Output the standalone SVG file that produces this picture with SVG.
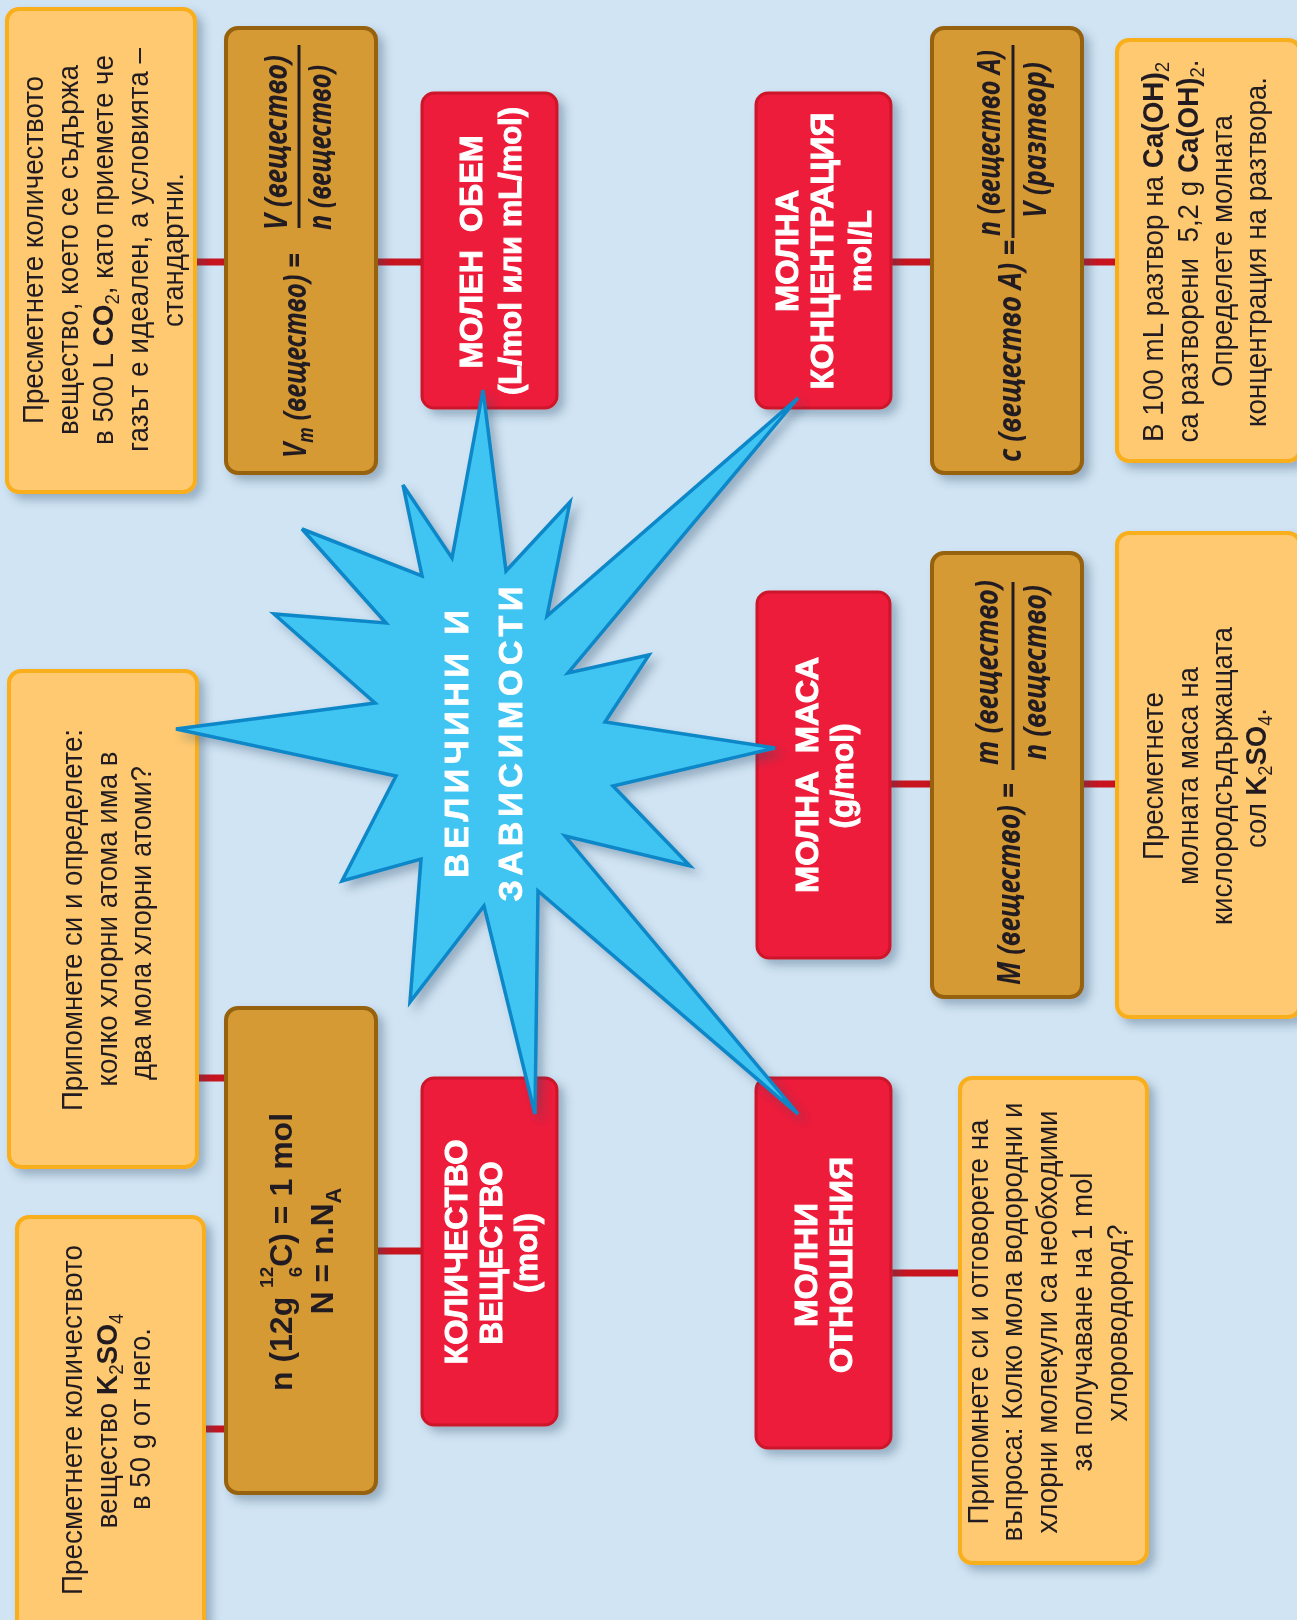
<svg xmlns="http://www.w3.org/2000/svg" width="1297" height="1620" viewBox="0 0 1297 1620">
<defs>
<filter id="sh" x="-20%" y="-20%" width="150%" height="150%">
<feDropShadow dx="6" dy="6" stdDeviation="5" flood-color="#2f4a66" flood-opacity="0.35"/>
</filter>
<style>
.ob{fill:#FEC970;stroke:#F9AE1C;stroke-width:4}
.bb{fill:#D69A36;stroke:#976208;stroke-width:4}
.rb{fill:#ED1B3A;stroke:#CC1429;stroke-width:3}
.conn{stroke:#C8141F;stroke-width:7;fill:none}
.bar{stroke:#231F20;stroke-width:3}
.t{font-family:"Liberation Sans",Arial,sans-serif;font-size:30px;fill:#231F20;text-anchor:middle}
.b{font-weight:bold}
.rt{font-family:"Liberation Sans",Arial,sans-serif;font-size:32px;font-weight:bold;fill:#fff;stroke:#fff;stroke-width:1;text-anchor:middle}
.ft{font-family:"Noto Sans","DejaVu Sans",sans-serif;font-size:33px;font-weight:bold;font-style:italic;fill:#231F20}
.ct{font-family:"Liberation Sans",Arial,sans-serif;font-size:32px;font-weight:bold;fill:#231F20;text-anchor:middle}
.st{font-family:"Liberation Sans",Arial,sans-serif;font-size:34px;font-weight:bold;fill:#fff;stroke:#fff;stroke-width:0.8;text-anchor:middle}
.star{fill:#40C5F3;stroke:#0A87C8;stroke-width:3.5;stroke-linejoin:miter}
</style>
</defs>
<rect x="0" y="0" width="1297" height="1620" fill="#D1E4F3"/>

<g id="connectors">
<line class="conn" x1="195" y1="262" x2="228" y2="262"/>
<line class="conn" x1="374" y1="262" x2="424" y2="262"/>
<line class="conn" x1="889" y1="262" x2="934" y2="262"/>
<line class="conn" x1="1080" y1="262" x2="1119" y2="262"/>
<line class="conn" x1="888" y1="784" x2="934" y2="784"/>
<line class="conn" x1="1080" y1="784" x2="1119" y2="784"/>
<line class="conn" x1="195" y1="1078" x2="228" y2="1078"/>
<line class="conn" x1="202" y1="1429" x2="228" y2="1429"/>
<line class="conn" x1="374" y1="1251" x2="424" y2="1251"/>
<line class="conn" x1="889" y1="1273" x2="962" y2="1273"/>
</g>

<g id="task-co2" filter="url(#sh)">
<rect class="ob" x="7" y="9" width="188" height="483" rx="12"/>
<g transform="rotate(-90)">
<text class="t" x="-250" y="43" textLength="348" lengthAdjust="spacingAndGlyphs">Пресметнете количеството</text>
<text class="t" x="-250" y="78" textLength="370" lengthAdjust="spacingAndGlyphs">вещество, което се съдържа</text>
<text class="t" x="-250" y="113" textLength="390" lengthAdjust="spacingAndGlyphs">в 500 L <tspan class="b">CO</tspan><tspan font-size="20" dy="6">2</tspan><tspan dy="-6">, като приемете че</tspan></text>
<text class="t" x="-250" y="148" textLength="404" lengthAdjust="spacingAndGlyphs">газът е идеален, а условията –</text>
<text class="t" x="-250" y="183" textLength="154" lengthAdjust="spacingAndGlyphs">стандартни.</text>
</g>
</g>

<g id="formula-vm" filter="url(#sh)">
<rect class="bb" x="226" y="28" width="150" height="445" rx="12"/>
<g transform="rotate(-90)">
<text class="ft" x="-458" y="306" textLength="205" lengthAdjust="spacingAndGlyphs">V<tspan font-size="22" dy="7">m</tspan><tspan dy="-7"> (вещество) =</tspan></text>
<text class="ft" x="-230" y="287" textLength="175" lengthAdjust="spacingAndGlyphs">V (вещество)</text>
<text class="ft" x="-230" y="331" textLength="165" lengthAdjust="spacingAndGlyphs">n (вещество)</text>
</g>
<line class="bar" x1="299" y1="45" x2="299" y2="228"/>
</g>

<g id="molar-volume" filter="url(#sh)">
<rect class="rb" x="422" y="93" width="135" height="315" rx="12"/>
<g transform="rotate(-90)">
<text class="rt" x="-252" y="482" textLength="233" lengthAdjust="spacingAndGlyphs">МОЛЕН&#160; ОБЕМ</text>
<text class="rt" x="-251" y="521" textLength="288" lengthAdjust="spacingAndGlyphs">(L/mol или mL/mol)</text>
</g>
</g>

<g id="molar-concentration" filter="url(#sh)">
<rect class="rb" x="756" y="93" width="135" height="315" rx="12"/>
<g transform="rotate(-90)">
<text class="rt" x="-251" y="798" textLength="122" lengthAdjust="spacingAndGlyphs">МОЛНА</text>
<text class="rt" x="-251" y="833" textLength="277" lengthAdjust="spacingAndGlyphs">КОНЦЕНТРАЦИЯ</text>
<text class="rt" x="-251" y="871" textLength="82" lengthAdjust="spacingAndGlyphs">mol/L</text>
</g>
</g>

<g id="formula-c" filter="url(#sh)">
<rect class="bb" x="932" y="28" width="150" height="445" rx="12"/>
<g transform="rotate(-90)">
<text class="ft" x="-462" y="1021" textLength="222" lengthAdjust="spacingAndGlyphs">c (вещество A) =</text>
<text class="ft" x="-143" y="1000" font-size="31" text-anchor="middle" textLength="186" lengthAdjust="spacingAndGlyphs">n (вещество A)</text>
<text class="ft" x="-218" y="1046" textLength="156" lengthAdjust="spacingAndGlyphs">V (разтвор)</text>
</g>
<line class="bar" x1="1013" y1="45" x2="1013" y2="238"/>
</g>

<g id="task-caoh2" filter="url(#sh)">
<rect class="ob" x="1117" y="40" width="183" height="421" rx="12"/>
<g transform="rotate(-90)">
<text class="t" x="-252" y="1163" textLength="380" lengthAdjust="spacingAndGlyphs">В 100 mL разтвор на <tspan class="b">Ca(OH)</tspan><tspan font-size="20" dy="6">2</tspan></text>
<text class="t" x="-251" y="1198" textLength="383" lengthAdjust="spacingAndGlyphs">са разтворени&#160; 5,2 g <tspan class="b">Ca(OH)</tspan><tspan font-size="20" dy="6">2</tspan><tspan dy="-6">.</tspan></text>
<text class="t" x="-251" y="1232" textLength="272" lengthAdjust="spacingAndGlyphs">Определете молната</text>
<text class="t" x="-252" y="1266" textLength="350" lengthAdjust="spacingAndGlyphs">концентрация на разтвора.</text>
</g>
</g>

<g id="task-chlorine" filter="url(#sh)">
<rect class="ob" x="9" y="671" width="188" height="496" rx="12"/>
<g transform="rotate(-90)">
<text class="t" x="-920" y="82" textLength="382" lengthAdjust="spacingAndGlyphs">Припомнете си и определете:</text>
<text class="t" x="-919" y="117" textLength="335" lengthAdjust="spacingAndGlyphs">колко хлорни атома има в</text>
<text class="t" x="-923" y="151" textLength="314" lengthAdjust="spacingAndGlyphs">два мола хлорни атоми?</text>
</g>
</g>

<g id="molar-mass" filter="url(#sh)">
<rect class="rb" x="757" y="592" width="133" height="366" rx="12"/>
<g transform="rotate(-90)">
<text class="rt" x="-775" y="818" textLength="236" lengthAdjust="spacingAndGlyphs">МОЛНА&#160; МАСА</text>
<text class="rt" x="-776" y="853" textLength="105" lengthAdjust="spacingAndGlyphs">(g/mol)</text>
</g>
</g>

<g id="formula-m" filter="url(#sh)">
<rect class="bb" x="932" y="553" width="150" height="444" rx="12"/>
<g transform="rotate(-90)">
<text class="ft" x="-985" y="1020" textLength="202" lengthAdjust="spacingAndGlyphs">M (вещество) =</text>
<text class="ft" x="-765" y="998" textLength="185" lengthAdjust="spacingAndGlyphs">m (вещество)</text>
<text class="ft" x="-760" y="1046" textLength="175" lengthAdjust="spacingAndGlyphs">n (вещество)</text>
</g>
<line class="bar" x1="1013" y1="582" x2="1013" y2="770"/>
</g>

<g id="task-k2so4-mass" filter="url(#sh)">
<rect class="ob" x="1117" y="533" width="183" height="484" rx="12"/>
<g transform="rotate(-90)">
<text class="t" x="-776" y="1163" textLength="168" lengthAdjust="spacingAndGlyphs">Пресметнете</text>
<text class="t" x="-776" y="1198" textLength="218" lengthAdjust="spacingAndGlyphs">молната маса на</text>
<text class="t" x="-776" y="1232" textLength="298" lengthAdjust="spacingAndGlyphs">кислородсъдържащата</text>
<text class="t" x="-778" y="1266" textLength="140" lengthAdjust="spacingAndGlyphs">сол <tspan class="b">K</tspan><tspan font-size="20" dy="6">2</tspan><tspan class="b" dy="-6">SO</tspan><tspan font-size="20" dy="6">4</tspan><tspan dy="-6">.</tspan></text>
</g>
</g>

<g id="formula-n" filter="url(#sh)">
<rect class="bb" x="226" y="1008" width="150" height="485" rx="12"/>
<g transform="rotate(-90)">
<text class="ct" x="-1252" y="292">n (12g <tspan font-size="19" dy="-19">12</tspan><tspan font-size="19" dx="-10.6" dy="29">6</tspan><tspan dy="-10">C) = 1 mol</tspan></text>
<text class="ct" x="-1251" y="333">N = n.N<tspan font-size="22" dy="8">A</tspan></text>
</g>
</g>

<g id="amount-of-substance" filter="url(#sh)">
<rect class="rb" x="422" y="1078" width="135" height="347" rx="12"/>
<g transform="rotate(-90)">
<text class="rt" x="-1252" y="467" textLength="225" lengthAdjust="spacingAndGlyphs">КОЛИЧЕСТВО</text>
<text class="rt" x="-1253" y="502" textLength="183" lengthAdjust="spacingAndGlyphs">ВЕЩЕСТВО</text>
<text class="rt" x="-1253" y="537" textLength="80" lengthAdjust="spacingAndGlyphs">(mol)</text>
</g>
</g>

<g id="task-k2so4-amount" filter="url(#sh)">
<rect class="ob" x="17" y="1217" width="187" height="420" rx="12"/>
<g transform="rotate(-90)">
<text class="t" x="-1420" y="82" textLength="350" lengthAdjust="spacingAndGlyphs">Пресметнете количеството</text>
<text class="t" x="-1421" y="117" textLength="215" lengthAdjust="spacingAndGlyphs">вещество <tspan class="b">K</tspan><tspan font-size="20" dy="6">2</tspan><tspan class="b" dy="-6">SO</tspan><tspan font-size="20" dy="6">4</tspan></text>
<text class="t" x="-1419" y="150" textLength="182" lengthAdjust="spacingAndGlyphs">в 50 g от него.</text>
</g>
</g>

<g id="molar-ratios" filter="url(#sh)">
<rect class="rb" x="756" y="1078" width="135" height="370" rx="12"/>
<g transform="rotate(-90)">
<text class="rt" x="-1265" y="817" textLength="124" lengthAdjust="spacingAndGlyphs">МОЛНИ</text>
<text class="rt" x="-1265" y="852" textLength="216" lengthAdjust="spacingAndGlyphs">ОТНОШЕНИЯ</text>
</g>
</g>

<g id="task-hcl" filter="url(#sh)">
<rect class="ob" x="960" y="1078" width="187" height="485" rx="12"/>
<g transform="rotate(-90)">
<text class="t" x="-1322" y="988" textLength="405" lengthAdjust="spacingAndGlyphs">Припомнете си и отговорете на</text>
<text class="t" x="-1322" y="1022" textLength="439" lengthAdjust="spacingAndGlyphs">въпроса: Колко мола водородни и</text>
<text class="t" x="-1322" y="1057" textLength="423" lengthAdjust="spacingAndGlyphs">хлорни молекули са необходими</text>
<text class="t" x="-1322" y="1092" textLength="299" lengthAdjust="spacingAndGlyphs">за получаване на 1 mol</text>
<text class="t" x="-1323" y="1127" textLength="197" lengthAdjust="spacingAndGlyphs">хлороводород?</text>
</g>
</g>

<g id="center-star" filter="url(#sh)">
<polygon class="star" points="483,390 506,571 570,502 547,616 798,398 568,673 649,655 605,722 775,748 613,786 690,866 565,836 798,1114 538,891 535,1114 484,906 410,1002 421,859 342,881 396,776 176,729 375,703 274,614 386,623 302,529 422,576 403,485 452,558"/>
<g transform="rotate(-90)">
<text class="st" x="-744" y="468" textLength="268" lengthAdjust="spacing">ВЕЛИЧИНИ И</text>
<text class="st" x="-744" y="522" textLength="315" lengthAdjust="spacing">ЗАВИСИМОСТИ</text>
</g>
</g>
</svg>
